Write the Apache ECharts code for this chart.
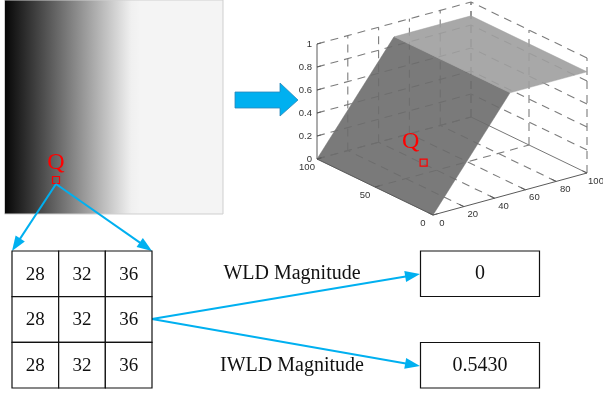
<!DOCTYPE html>
<html>
<head>
<meta charset="utf-8">
<script src="https://cdn.jsdelivr.net/npm/echarts@6/dist/echarts.min.js"></script>
<style>
  html, body { margin: 0; padding: 0; background: #fff; }
  #chart { width: 603px; height: 397px; }
</style>
</head>
<body>
<div id="chart"></div>
<script>
// gray ramp image (position across width -> gray level)
const imageStops = [0, 0.58, 0.62, 1]
const imageGray = [0.02, 0.94, 0.955, 0.955]

// 3D surface profile along x (same for every y)
const surfX = [0, 50, 100]
const surfZ = [0, 0.88, 0.88]
const xTicks = [0, 20, 40, 60, 80, 100]
const yTicks = [0, 50, 100]
const zTicks = [0, 0.2, 0.4, 0.6, 0.8, 1]
const zTickLabels = ["0", "0.2", "0.4", "0.6", "0.8", "1"]
const qPoint = [15, 28]

// 3x3 patch around Q
const patchCols = ["c0", "c1", "c2"]
const patchRows = ["r0", "r1", "r2"]
const patchValues = [
  [28, 32, 36],
  [28, 32, 36],
  [28, 32, 36],
]

const outLabels = ["WLD Magnitude", "IWLD Magnitude"]
const outValues = ["0", "0.5430"]

const BLUE = "#00b0f0"
const SERIF = '"Liberation Serif", "Times New Roman", serif'
const SANS = '"Liberation Sans", Arial, sans-serif'

// projection of the 3D box into the picture
const O3 = [433, 215]
const AX = [154, -42]
const AY = [-116, -56]
const AZ = 115
function proj(x, y, z) {
  return [O3[0] + (x / 100) * AX[0] + (y / 100) * AY[0], O3[1] + (x / 100) * AX[1] + (y / 100) * AY[1] - z * AZ]
}

function seg(a, b, style) {
  return { type: "line", silent: true, shape: { x1: a[0], y1: a[1], x2: b[0], y2: b[1] }, style }
}
const dashed = { stroke: "#7c7c7c", lineWidth: 1.1, lineDash: [8, 6] }
const solid = { stroke: "#5a5a5a", lineWidth: 1 }

function txt(text, x, y, font, fill, align, valign) {
  return {
    type: "text",
    silent: true,
    style: { text, x, y, font, fill, align, textAlign: align, verticalAlign: valign, textVerticalAlign: valign },
  }
}

function arrow(x1, y1, x2, y2, head = 15, half = 5.5) {
  const dx = x2 - x1, dy = y2 - y1
  const L = Math.hypot(dx, dy)
  const ux = dx / L, uy = dy / L
  const bx = x2 - ux * head, by = y2 - uy * head
  return [
    { type: "line", silent: true, shape: { x1, y1, x2: bx + ux * 2, y2: by + uy * 2 }, style: { stroke: BLUE, lineWidth: 2 } },
    {
      type: "polygon",
      silent: true,
      shape: { points: [[x2, y2], [bx - uy * half, by + ux * half], [bx + uy * half, by - ux * half]] },
      style: { fill: BLUE },
    },
  ]
}

function render3D() {
  const els = []
  // left wall (y = 100)
  xTicks.slice(1).forEach((x) => els.push(seg(proj(x, 100, 0), proj(x, 100, 1), dashed)))
  zTicks.forEach((z) => els.push(seg(proj(0, 100, z), proj(100, 100, z), dashed)))
  // right wall (x = 100)
  yTicks.forEach((y) => els.push(seg(proj(100, y, 0), proj(100, y, 1), dashed)))
  zTicks.slice(1).forEach((z) => els.push(seg(proj(100, 0, z), proj(100, 100, z), dashed)))
  // floor
  xTicks.slice(1, -1).forEach((x) => els.push(seg(proj(x, 0, 0), proj(x, 100, 0), dashed)))
  yTicks.slice(1).forEach((y) => els.push(seg(proj(0, y, 0), proj(100, y, 0), dashed)))
  els.push(seg(proj(100, 0, 0), proj(100, 100, 0), { stroke: "#777", lineWidth: 1 }))

  // surface
  for (let i = 0; i < surfX.length - 1; i++) {
    const slope = surfZ[i + 1] - surfZ[i]
    const fill = slope > 0 ? "#6c6c6c" : "#9f9f9f"
    els.push({
      type: "polygon",
      silent: true,
      shape: {
        points: [
          proj(surfX[i], 0, surfZ[i]),
          proj(surfX[i + 1], 0, surfZ[i + 1]),
          proj(surfX[i + 1], 100, surfZ[i + 1]),
          proj(surfX[i], 100, surfZ[i]),
        ],
      },
      style: { fill, opacity: 0.9, stroke: fill, lineWidth: 0.5 },
    })
  }

  // axes
  els.push(seg(proj(0, 100, 0), proj(0, 100, 1), solid))
  els.push(seg(proj(0, 0, 0), proj(0, 100, 0), solid))
  els.push(seg(proj(0, 0, 0), proj(100, 0, 0), solid))
  zTicks.forEach((z, i) => {
    const p = proj(0, 100, z)
    els.push(seg(p, proj(2.5, 100, z), solid))
    els.push(txt(zTickLabels[i], p[0] - 5, p[1], "9.5px " + SANS, "#333", "right", "middle"))
  })
  xTicks.forEach((x) => {
    const p = proj(x, 0, 0)
    els.push(seg(p, proj(x, 4, 0), solid))
    els.push(txt(String(x), p[0] + 9, p[1] + 8, "9.5px " + SANS, "#333", "center", "middle"))
  })
  yTicks.forEach((y) => {
    const p = proj(0, y, 0)
    els.push(seg(p, proj(3, y, 0), solid))
    els.push(txt(String(y), p[0] - 10, p[1] + 8, "9.5px " + SANS, "#333", "center", "middle"))
  })

  // Q on the surface
  const zq = surfZ[0] + ((surfZ[1] - surfZ[0]) * (qPoint[0] - surfX[0])) / (surfX[1] - surfX[0])
  const q = proj(qPoint[0], qPoint[1], zq)
  els.push({ type: "rect", silent: true, shape: { x: q[0] - 3.5, y: q[1] - 3.5, width: 7, height: 7 }, style: { fill: "none", stroke: "#ff0000", lineWidth: 1.2 } })
  els.push(txt("Q", q[0] - 13, q[1] - 21, "24px " + SERIF, "#ff0000", "center", "middle"))
  return { type: "group", children: els }
}

const chart = echarts.init(document.getElementById("chart"), null, { renderer: "canvas" })

const patchData = []
patchValues.forEach((row, r) => row.forEach((v, c) => patchData.push([c, r, v])))

const grayColor = (g) => {
  const v = Math.round(g * 255)
  return "rgb(" + v + "," + v + "," + v + ")"
}

const graphic = [
  // gray ramp image
  {
    type: "rect",
    shape: { x: 4.5, y: 0, width: 218.5, height: 214 },
    style: {
      fill: new echarts.graphic.LinearGradient(0, 0, 1, 0, imageStops.map((s, i) => ({ offset: s, color: grayColor(imageGray[i]) }))),
      stroke: "#cfcfcf",
      lineWidth: 1,
    },
  },
  { type: "text", style: { text: "Q", x: 56, y: 163, font: "24px " + SERIF, fill: "#ff0000", align: "center", textAlign: "center", verticalAlign: "middle", textVerticalAlign: "middle" } },
  { type: "rect", shape: { x: 52.5, y: 176.5, width: 7, height: 7 }, style: { fill: "none", stroke: "#ff0000", lineWidth: 1.2 } },
  ...arrow(56, 184, 12, 251),
  ...arrow(56, 184, 152, 251),
  // big arrow
  {
    type: "polygon",
    shape: { points: [[235, 92], [280, 92], [280, 83], [298, 100], [280, 116], [280, 108], [235, 108]] },
    style: { fill: BLUE, stroke: "#2c86b8", lineWidth: 0.8 },
  },
  ...arrow(152, 319, 420, 274),
  ...arrow(152, 319, 420, 366),
]
outLabels.forEach((label, i) => {
  const top = i === 0 ? 251 : 342.5
  graphic.push({ type: "text", style: { text: label, x: 292, y: top + 23, font: "20px " + SERIF, fill: "#111", align: "center", textAlign: "center", verticalAlign: "middle", textVerticalAlign: "middle" } })
  graphic.push({ type: "rect", shape: { x: 420.5, y: top, width: 119, height: 45.5 }, style: { fill: "#fff", stroke: "#111", lineWidth: 1.2 } })
  graphic.push({ type: "text", style: { text: outValues[i], x: 480, y: top + 23, font: "20px " + SERIF, fill: "#111", align: "center", textAlign: "center", verticalAlign: "middle", textVerticalAlign: "middle" } })
})

chart.setOption({
  animation: false,
  backgroundColor: "#fff",
  grid: { left: 12, top: 251, width: 140, height: 137 },
  xAxis: { type: "category", data: patchCols, show: false },
  yAxis: { type: "category", data: patchRows, inverse: true, show: false },
  graphic,
  series: [
    {
      type: "custom",
      coordinateSystem: "none",
      silent: true,
      data: [0],
      renderItem: () => render3D(),
    },
    {
      type: "custom",
      silent: true,
      data: patchData,
      renderItem: (params, api) => {
        const p = api.coord([api.value(0), api.value(1)])
        const s = api.size([1, 1])
        return {
          type: "group",
          children: [
            { type: "rect", shape: { x: p[0] - s[0] / 2, y: p[1] - s[1] / 2, width: s[0], height: s[1] }, style: { fill: "#fff", stroke: "#111", lineWidth: 1.2 } },
            { type: "text", style: { text: String(api.value(2)), x: p[0], y: p[1] + 1, font: "19px " + SERIF, fill: "#111", align: "center", textAlign: "center", verticalAlign: "middle", textVerticalAlign: "middle" } },
          ],
        }
      },
    },
  ],
})
</script>
</body>
</html>
